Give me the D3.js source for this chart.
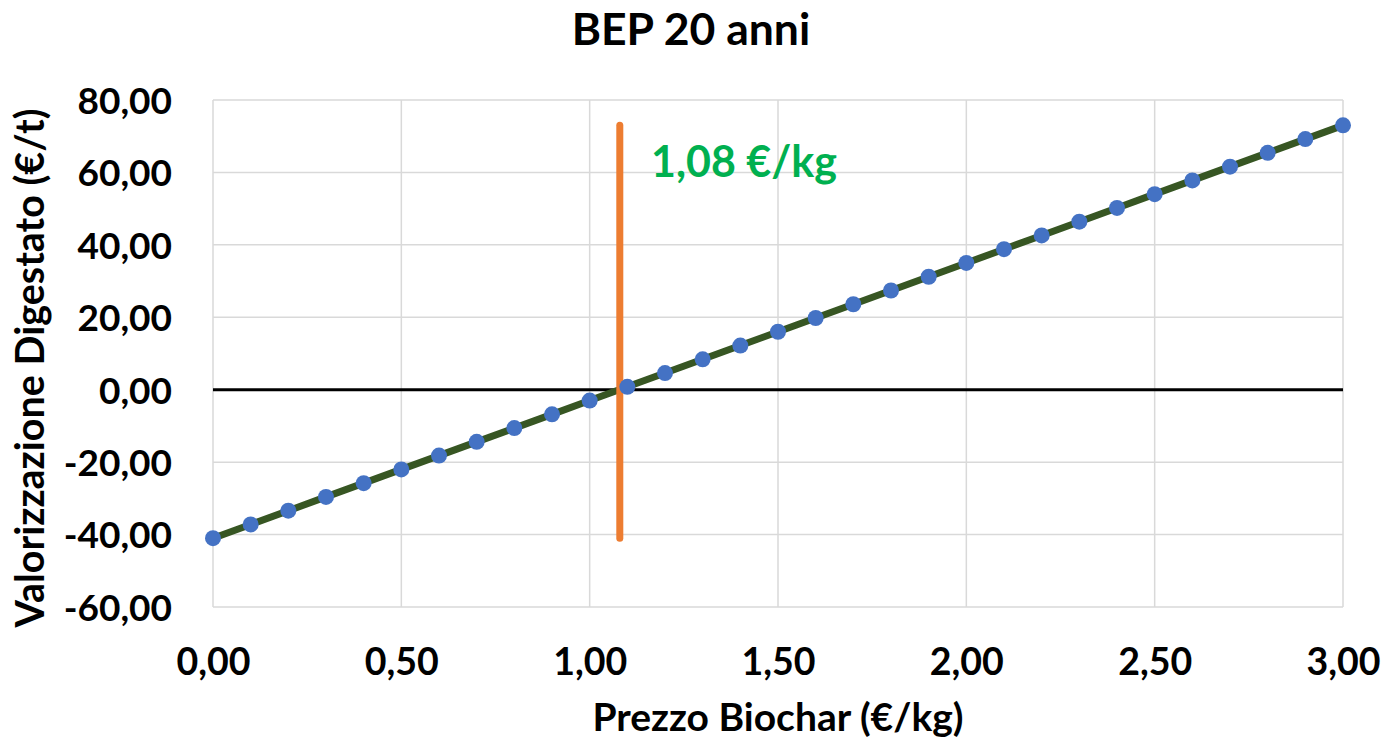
<!DOCTYPE html>
<html><head><meta charset="utf-8">
<script src="https://cdn.jsdelivr.net/npm/d3@7"></script>
<style>
html,body{margin:0;padding:0;background:#fff;}
svg text{font-family:Lato,"Open Sans",sans-serif;font-weight:bold;}
</style></head>
<body>
<svg id="chart" width="1387" height="744"></svg>
<script>
const chartTitle = "BEP 20 anni";
const xTitle = "Prezzo Biochar (€/kg)";
const yTitle = "Valorizzazione Digestato (€/t)";
const prices = [0.0,0.1,0.2,0.3,0.4,0.5,0.6,0.7,0.8,0.9,1.0,1.1,1.2,1.3,1.4,1.5,1.6,1.7,1.8,1.9,2.0,2.1,2.2,2.3,2.4,2.5,2.6,2.7,2.8,2.9,3.0];
const values = [-41.0,-37.2,-33.4,-29.6,-25.8,-22.0,-18.2,-14.4,-10.6,-6.8,-3.0,0.8,4.6,8.4,12.2,16.0,19.8,23.6,27.4,31.2,35.0,38.8,42.6,46.4,50.2,54.0,57.8,61.6,65.4,69.2,73.0];
const xTicks = [0,0.5,1.0,1.5,2.0,2.5,3.0];
const yTicks = [-60,-40,-20,0,20,40,60,80];
const bepPrice = 1.08;
const bepRange = [-41.0, 73.0];
const bepLabel = "1,08 €/kg";

const svg = d3.select("#chart");
const x = d3.scaleLinear().domain([0,3]).range([213,1343]);
const y = d3.scaleLinear().domain([-60,80]).range([607,100]);
const fmt = v => d3.format(".2f")(v).replace(".", ",").replace("−","-");

// gridlines
svg.append("g").selectAll("line").data(yTicks).join("line")
  .attr("x1", x(0)).attr("x2", x(3)).attr("y1", d=>y(d)).attr("y2", d=>y(d))
  .attr("stroke", "#d9d9d9").attr("stroke-width", 1.5);
svg.append("g").selectAll("line").data(xTicks).join("line")
  .attr("y1", y(-60)).attr("y2", y(80)).attr("x1", d=>x(d)).attr("x2", d=>x(d))
  .attr("stroke", "#d9d9d9").attr("stroke-width", 1.5);

// zero line
svg.append("line").attr("x1", x(0)).attr("x2", x(3)).attr("y1", y(0)).attr("y2", y(0))
  .attr("stroke", "#000").attr("stroke-width", 3);

// axis labels
const yAxis = d3.axisLeft(y).tickValues(yTicks).tickFormat(fmt).tickSize(0).tickPadding(41);
const gy = svg.append("g").attr("transform", `translate(${x(0)},0)`).call(yAxis);
gy.select(".domain").remove();
gy.selectAll("text").attr("font-size", 37).attr("fill", "#000").attr("dy", "0.36em")
  .style("font-family", "Lato").style("font-weight", "bold");

const xAxis = d3.axisBottom(x).tickValues(xTicks).tickFormat(fmt).tickSize(0).tickPadding(68);
const gx = svg.append("g").attr("transform", `translate(0,${y(-60)})`).call(xAxis);
gx.select(".domain").remove();
gx.selectAll("text").attr("font-size", 37.5).attr("fill", "#000").attr("dy", "0")
  .style("font-family", "Lato").style("font-weight", "bold");

// series line
const line = d3.line().x((d,i)=>x(prices[i])).y(d=>y(d));
svg.append("path").datum(values).attr("d", line).attr("fill","none")
  .attr("stroke", "#375623").attr("stroke-width", 7).attr("stroke-linejoin","round");

// BEP vertical line
svg.append("line").attr("x1", x(bepPrice)).attr("x2", x(bepPrice))
  .attr("y1", y(bepRange[1])).attr("y2", y(bepRange[0]))
  .attr("stroke", "#ED7D31").attr("stroke-width", 7).attr("stroke-linecap","round");

// markers
svg.append("g").selectAll("circle").data(values).join("circle")
  .attr("cx", (d,i)=>x(prices[i])).attr("cy", d=>y(d)).attr("r", 8)
  .attr("fill", "#4472C4");

// label
svg.append("text").attr("x", 651).attr("y", 177).attr("font-size", 43)
  .attr("fill", "#00B050").text(bepLabel);

// titles
svg.append("text").attr("x", 691).attr("y", 45).attr("text-anchor","middle")
  .attr("font-size", 44.5).attr("fill","#000").text(chartTitle);
svg.append("text").attr("x", 778).attr("y", 731).attr("text-anchor","middle")
  .attr("font-size", 39).attr("fill","#000").text(xTitle);
svg.append("text").attr("transform", "translate(44,368) rotate(-90)").attr("text-anchor","middle")
  .attr("font-size", 39.5).attr("fill","#000").text(yTitle);
</script>
</body></html>
